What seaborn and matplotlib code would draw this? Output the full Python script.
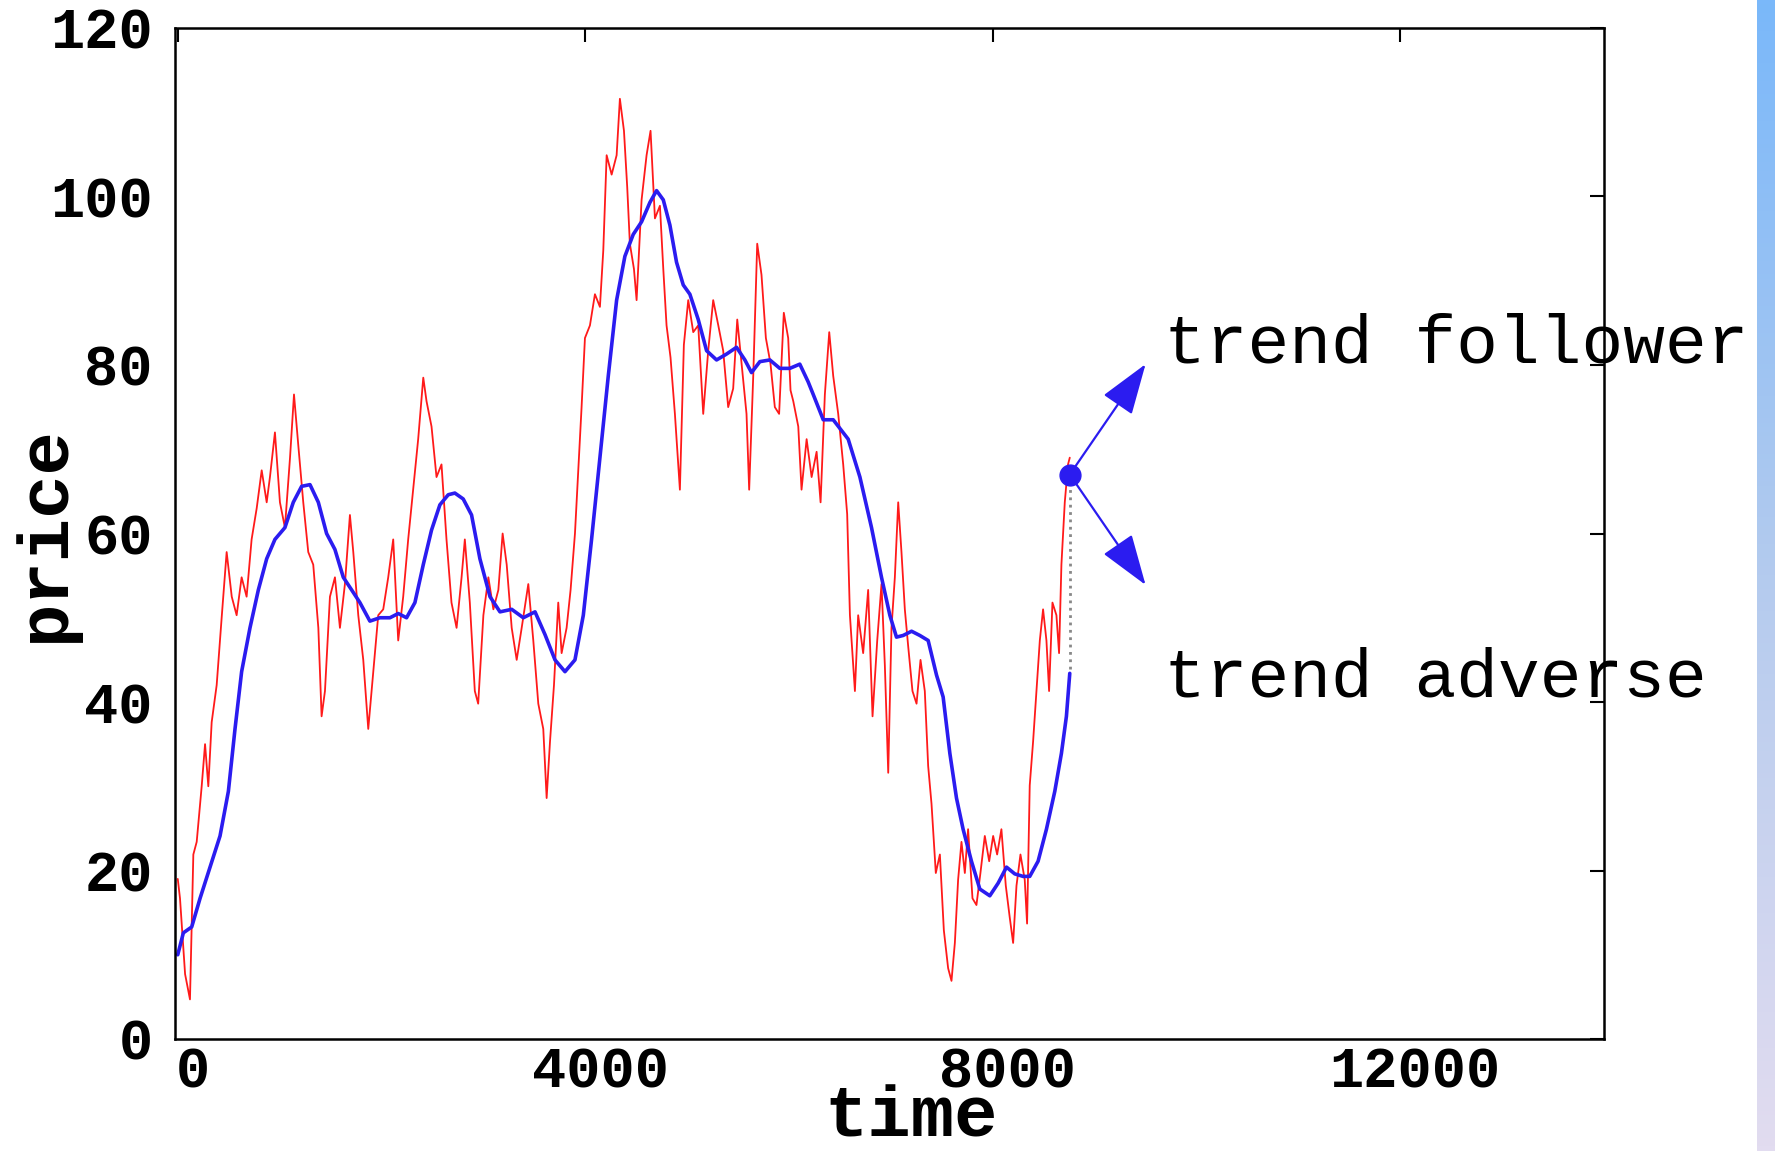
import numpy as np
import matplotlib
matplotlib.use("Agg")
import matplotlib.pyplot as plt
import matplotlib.transforms as mtransforms
import seaborn as sns

# precio (rojo)
red_t = [0, 22, 72, 120, 153, 186, 235, 268, 300, 333, 382, 431, 480, 530, 578, 627,
         676, 725, 775, 824, 873, 905, 954, 1003, 1052, 1102, 1141, 1183, 1232, 1281,
         1330, 1380, 1412, 1445, 1494, 1543, 1592, 1641, 1690, 1723, 1772, 1821, 1870,
         1919, 1968, 2017, 2066, 2115, 2164, 2213, 2262, 2311, 2360, 2410, 2442, 2491,
         2540, 2589, 2638, 2687, 2737, 2786, 2818, 2867, 2916, 2949,
         3000, 3049, 3098, 3147, 3189, 3229, 3278, 3327, 3376, 3441, 3490, 3539, 3588,
         3621, 3654, 3693, 3735, 3768, 3817, 3856, 3899, 3932, 3964, 3997, 4046, 4095,
         4144, 4177, 4210, 4259, 4308, 4340, 4380, 4412, 4438, 4478, 4504, 4553, 4602,
         4641, 4684, 4733, 4766, 4798, 4837, 4880, 4929, 4968, 5011, 5060, 5109, 5158,
         5207, 5256, 5306, 5354, 5403, 5452, 5492, 5534, 5583, 5609, 5649, 5688, 5730,
         5773, 5818, 5861, 5903, 5949, 5992, 6015,
         6042, 6091, 6123, 6173, 6222, 6271, 6310, 6352, 6395, 6434, 6483, 6532, 6571,
         6598, 6647, 6679, 6728, 6777, 6820, 6866, 6908, 6941, 6974, 7006, 7039, 7072,
         7104, 7137, 7170, 7212, 7252, 7291, 7333, 7366, 7399, 7441, 7481, 7520, 7562,
         7595, 7628, 7660, 7693, 7726, 7758, 7801, 7840, 7879, 7922, 7965, 8004, 8043,
         8085, 8128, 8167, 8200, 8233, 8272, 8314, 8337, 8363, 8396, 8429, 8462, 8494,
         8527, 8553, 8586, 8625, 8651, 8674, 8707, 8739, 8756]
red_v = [19, 16.7, 7.7, 4.7, 21.9, 23.4, 30, 35, 30, 37.6, 42, 50, 57.8, 52.5, 50.3, 54.8,
         52.5, 59.3, 63, 67.5, 63.7, 66.7, 72, 63.7, 60.7, 69, 76.5, 70.5, 63.7, 57.8,
         56.3, 48.8, 38.3, 41.3, 52.5, 54.8, 48.8, 54, 62.2, 57.8, 50.3, 45, 36.8,
         43.6, 50.3, 51, 54.8, 59.3, 47.3, 52.5, 59.3, 65.2, 71.2, 78.5, 75.7, 72.7,
         66.7, 68.2, 59.3, 51.8, 48.8, 54.8, 59.3, 51.8, 41.3, 39.8,
         50.3, 54.8, 51, 53.3, 60, 56.3, 48.8, 45, 48.8, 54, 47.3, 39.8, 36.8,
         28.6, 35.3, 42, 51.8, 45.8, 48.8, 53.3, 60, 67.5, 75, 83.2, 84.7, 88.4,
         86.9, 93.6, 104.9, 102.6, 104.9, 111.6, 107.8, 101.1, 94.4, 91.4, 87.7, 99.6, 104.9,
         107.8, 97.4, 98.9, 91.4, 84.7, 80.9, 74.2, 65.2, 82.4, 87.7, 83.9, 84.7, 74.2,
         81.7, 87.7, 84.7, 81.7, 75, 77.2, 85.4, 80.2, 74.2, 65.2, 78.7, 94.4, 90.7,
         83.2, 80.2, 75, 74.2, 86.2, 83.2, 77,
         75.7, 72.7, 65.2, 71.2, 66.7, 69.7, 63.7, 76.5, 83.9, 78.7, 74.2, 68.2, 62.3,
         50.3, 41.3, 50.3, 45.8, 53.3, 38.3, 47.3, 54, 44.3, 31.6, 48.8, 54.8, 63.7,
         57.8, 51, 46.6, 41.3, 39.8, 45, 41.3, 32.4, 27.9, 19.7, 21.9, 12.9, 8.4,
         6.9, 11.4, 18.9, 23.4, 19.7, 24.9, 16.7, 15.9, 19.7, 24.1, 21.1, 24.1, 21.9,
         24.9, 18.2, 14.4, 11.4, 18.2, 21.9, 18.9, 13.7, 30.1, 35.3, 41.3, 47.3, 51,
         47.3, 41.3, 51.8, 50.3, 45.8, 56.3, 63.7, 68.2, 69]

# media movil (azul)
blue_t = [0, 55, 137, 219, 317, 415, 497, 562, 627, 709, 791, 873, 954, 1052, 1134, 1216,
          1298, 1380, 1461, 1543, 1625, 1707, 1788, 1886, 1984, 2083, 2164, 2246, 2328,
          2410, 2491, 2573, 2655, 2720, 2802, 2884, 2966, 3065, 3163, 3278, 3392, 3507,
          3605, 3703, 3801, 3899, 3981, 4062, 4144, 4226, 4308, 4389, 4471, 4553, 4635,
          4700, 4766, 4831, 4896, 4962, 5027, 5109, 5191, 5289, 5387, 5485, 5567, 5632,
          5714, 5812, 5910, 6008, 6106, 6188, 6238, 6336, 6434, 6581, 6696, 6810, 6908,
          6990, 7055, 7121, 7203, 7284, 7366, 7448, 7513, 7579, 7644, 7709, 7791, 7873,
          7971, 8053, 8135, 8216, 8298, 8363, 8445, 8527, 8609, 8674, 8723, 8756]
blue_v = [10, 12.6, 13.3, 16.7, 20.4, 24.1, 29.4, 36.8, 43.6, 48.8, 53.3, 57, 59.3, 60.7,
          63.7, 65.6, 65.8, 63.7, 60, 58.1, 54.8, 53.3, 51.8, 49.6, 50, 50, 50.5, 50, 51.8,
          56.3, 60.4, 63.4, 64.6, 64.8, 64.1, 62.2, 57, 52.5, 50.7, 51, 50, 50.7, 48, 45,
          43.6, 45, 50.3, 59.3, 69, 78.7, 87.7, 92.9, 95.5, 97, 99.3, 100.7, 99.6, 96.6,
          92.2, 89.5, 88.4, 85.4, 81.7, 80.6, 81.3, 82.1, 80.6, 79.1, 80.4, 80.6, 79.6,
          79.6, 80.1, 78, 76.5, 73.5, 73.5, 71.2, 66.7, 60.7, 54.8, 50.3, 47.7, 47.9, 48.4,
          47.9, 47.3, 43.2, 40.6, 33.9, 28.6, 24.9, 21.1, 17.8, 17, 18.5, 20.4, 19.6, 19.3,
          19.3, 21.1, 24.9, 29.4, 33.9, 38.3, 43.4]

punto_t, punto_v = 8756, 67
flecha_fin_t = 9500
flecha_sube, flecha_baja = 80.1, 53.9
x_ticks = [0, 4000, 8000, 12000]
y_ticks = [0, 20, 40, 60, 80, 100, 120]

azul = '#2b1cf0'

sns.set_style("white")
plt.rcParams['font.family'] = ['Liberation Mono', 'DejaVu Sans Mono']
plt.rcParams['text.color'] = 'black'
plt.rcParams['axes.labelcolor'] = 'black'
plt.rcParams['xtick.color'] = 'black'
plt.rcParams['ytick.color'] = 'black'

fig = plt.figure(figsize=(17.75, 11.51), dpi=100)
ax = fig.add_axes([175 / 1775, 112 / 1151, 1429 / 1775, 1011 / 1151])

sns.lineplot(x=red_t, y=red_v, ax=ax, color='#ff1a1a', lw=1.3, estimator=None, sort=False)
sns.lineplot(x=blue_t, y=blue_v, ax=ax, color=azul, lw=2.6, estimator=None, sort=False)

# linea punteada entre precio y media
ax.plot([punto_t, punto_t], [blue_v[-1] + 0.5, punto_v - 1.5], ls=':', color='#888888', lw=2)
ax.plot([punto_t], [punto_v], 'o', ms=15, color=azul, zorder=5)

for y_fin in (flecha_sube, flecha_baja):
    ax.annotate('', xy=(flecha_fin_t, y_fin), xytext=(punto_t, punto_v),
                arrowprops=dict(arrowstyle='-|>,head_length=1.6,head_width=0.55',
                                color=azul, lw=1.6, shrinkA=0, shrinkB=0,
                                mutation_scale=20))

ax.text(9680, 82.4, 'trend follower', fontsize=50, va='center', ha='left', color='black')
ax.text(9680, 42.8, 'trend adverse', fontsize=50, va='center', ha='left', color='black')

ax.set_xlim(-27, 14000)
ax.set_ylim(0, 120)
ax.set_xticks(x_ticks)
ax.set_yticks(y_ticks)
ax.tick_params(direction='in', length=10, width=1.5, top=True, right=True,
               labelsize=41, pad=16)
ax.tick_params(axis='x', pad=5)
for lab in ax.get_xticklabels() + ax.get_yticklabels():
    lab.set_fontweight('bold')
desplaza = mtransforms.ScaledTranslation(0.15, 0, fig.dpi_scale_trans)
for lab in ax.get_xticklabels():
    lab.set_transform(lab.get_transform() + desplaza)

for s in ax.spines.values():
    s.set_linewidth(1.8)
    s.set_color('black')

ax.set_xlabel('time', fontsize=52, fontweight='bold', va='center')
ax.set_ylabel('price', fontsize=52, fontweight='bold', va='center')
ax.xaxis.set_label_coords(0.515, -0.078)
ax.yaxis.set_label_coords(-0.091, 0.5)

# franja degradada a la derecha
franja = fig.add_axes([1757 / 1775, 0, 18 / 1775, 1])
grad = np.linspace(0, 1, 256).reshape(-1, 1)
cmap = matplotlib.colors.LinearSegmentedColormap.from_list('franja', ['#7ab8fa', '#b4cbee', '#e2dcf0'])
franja.imshow(grad, aspect='auto', cmap=cmap)
franja.axis('off')

fig.savefig('out.png', dpi=100)
